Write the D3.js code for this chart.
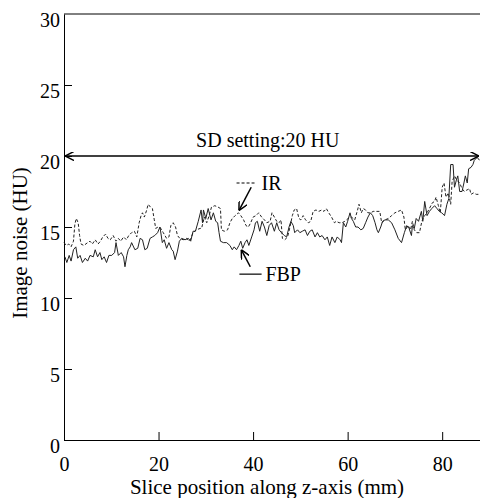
<!DOCTYPE html>
<html>
<head>
<meta charset="utf-8">
<script src="https://cdn.jsdelivr.net/npm/d3@7"></script>
<style>
  body { margin: 0; background: #fff; }
</style>
</head>
<body>
<svg id="chart"></svg>
<script>
// slice positions (mm) and noise (HU)
const fbpX = [0.2,0.6,1.1,1.5,2.0,2.5,2.9,3.4,3.9,4.5,5.0,5.5,6.2,6.6,7.1,7.6,8.0,8.5,9.0,9.5,10.1,10.7,11.0,11.5,12.1,12.6,12.9,13.3,13.6,14.0,14.3,
  15.0,15.6,16.1,16.6,17.1,17.6,18.2,18.7,19.2,19.8,20.3,20.8,21.2,21.7,22.2,22.8,23.1,23.5,24.0,24.4,24.9,25.6,26.3,26.8,27.3,27.8,28.4,29.0,29.3,
  29.5,30.0,30.5,31.1,31.6,32.1,32.5,32.8,33.1,33.7,34.4,35.1,35.6,36.0,36.5,37.0,37.4,37.8,38.3,38.7,39.1,39.7,40.2,40.5,40.9,41.4,41.9,42.4,42.9,43.4,
  43.9,44.5,45.0,45.5,46.0,46.6,47.1,47.6,48.0,48.5,48.8,49.4,49.9,50.4,51.0,51.5,52.0,52.5,53.1,53.6,54.1,54.6,55.2,55.7,56.2,56.7,57.3,57.8,58.4,58.7,
  59.1,59.6,60.0,60.5,60.8,61.2,61.7,62.2,62.8,63.3,63.8,64.3,64.8,65.3,65.8,66.2,66.5,67.0,67.4,67.9,68.6,69.3,70.0,70.7,71.4,72.0,72.5,73.0,73.5,
  73.7,74.1,74.5,75.0,75.6,75.9,76.3,76.8,77.3,77.8,78.4,78.9,79.4,79.9,80.5,81.0,81.4,81.8,82.3,82.6,83.0,83.3,83.7,84.2,84.6,84.9,85.3,85.6,86.1,86.5,86.8,87.4,87.9];
const fbpHU = [12.9,12.5,13.0,12.6,13.4,13.6,12.8,13.0,12.5,12.8,12.6,13.0,12.9,13.4,12.9,13.2,12.7,12.9,12.5,13.0,13.0,13.2,13.9,13.0,13.2,12.9,12.2,13.0,13.4,13.6,13.9,
  13.4,13.5,14.2,14.1,13.4,13.5,14.2,14.3,14.4,14.6,15.0,13.9,14.1,13.5,13.9,13.4,13.3,12.7,13.3,14.0,14.2,14.1,14.2,14.0,14.7,14.7,15.4,16.2,15.3,
  16.2,15.6,16.3,15.5,16.0,15.4,15.3,14.6,14.0,13.9,13.9,13.7,13.4,13.6,13.4,13.7,14.0,13.5,13.9,14.1,13.7,14.3,14.8,15.3,15.4,14.7,15.4,15.0,14.4,15.1,
  15.3,14.7,15.3,14.8,14.6,14.4,14.3,15.0,15.4,15.1,14.6,14.8,14.6,14.7,14.8,14.4,14.7,14.8,14.3,14.6,14.3,14.4,14.1,14.3,13.7,14.3,13.9,14.3,14.1,13.9,
  15.3,15.0,15.4,16.0,15.6,15.4,15.0,15.0,14.8,14.9,15.3,15.7,16.0,15.8,15.3,14.8,14.6,15.0,15.4,15.5,15.5,15.3,14.8,14.2,13.9,14.6,15.1,14.9,14.4,
  15.1,14.9,15.6,15.4,16.1,15.4,16.8,15.8,16.1,16.3,16.5,16.3,16.1,16.0,15.8,16.6,17.0,19.4,19.4,17.8,18.3,18.6,17.5,17.5,18.1,18.6,18.1,19.1,19.2,19.4,19.7,19.9,19.7];

const irX = [0.0,0.5,1.0,1.5,2.0,2.3,2.6,3.0,3.3,3.6,4.2,5.0,5.5,6.0,6.6,7.2,7.7,8.2,8.8,9.3,9.8,10.4,11.0,11.5,12.0,12.6,13.2,13.7,14.3,
  14.9,15.4,15.9,16.3,16.6,17.0,17.5,17.8,18.3,18.7,19.1,19.4,19.9,20.5,21.0,21.7,22.2,22.6,23.1,23.6,24.0,24.5,25.2,25.9,26.6,27.3,28.0,28.8,
  29.1,29.7,30.2,30.7,31.2,31.9,32.6,33.1,33.3,33.9,34.6,35.1,35.6,36.2,36.9,37.4,38.0,38.5,39.0,39.5,40.0,40.6,41.2,41.8,42.4,42.9,43.6,
  44.0,44.5,45.0,45.5,45.9,46.2,46.7,47.3,47.8,48.3,48.7,49.2,49.7,50.1,50.6,51.1,51.7,52.2,52.7,53.3,53.9,54.5,55.0,55.5,56.0,56.6,57.2,57.6,58.2,58.8,
  59.4,60.1,60.8,61.5,62.1,62.4,62.9,63.3,63.8,64.3,64.9,65.4,66.1,66.8,67.2,67.9,68.6,69.3,70.0,70.7,71.4,71.9,72.2,72.8,73.3,
  73.7,74.1,74.6,75.2,75.7,76.3,76.8,77.3,77.9,78.4,78.7,79.2,79.6,80.0,80.4,80.8,81.3,81.8,82.1,82.6,83.1,83.7,84.2,84.7,85.2,85.8,86.1,86.6,87.2,87.9];
const irHU = [13.9,13.7,13.8,13.6,14.0,15.2,15.6,15.3,14.4,13.8,13.7,13.9,14.0,13.8,14.1,13.8,14.0,14.3,14.5,14.2,14.1,14.4,14.0,14.2,14.0,14.3,14.1,14.4,14.6,
  14.7,14.3,15.3,15.8,16.0,15.7,16.2,16.6,16.4,16.3,15.5,14.9,15.0,14.9,14.6,14.2,14.3,15.1,15.3,15.0,14.4,14.2,14.1,14.2,14.0,14.6,14.8,14.9,
  14.9,15.7,15.3,15.8,16.4,16.5,16.4,16.3,14.8,14.7,14.8,15.3,15.6,15.8,16.0,15.8,15.5,15.1,15.0,15.3,15.7,15.8,16.0,15.7,15.5,15.3,15.4,
  16.0,15.7,15.4,15.3,15.5,14.2,14.1,14.3,15.0,15.8,16.2,16.3,15.6,15.5,15.8,15.5,15.3,15.4,16.1,16.2,16.1,16.2,16.1,16.3,16.0,15.7,15.3,15.4,15.3,15.3,
  15.4,15.6,15.7,15.5,16.2,16.6,16.0,16.3,16.2,16.0,16.0,16.1,16.1,16.1,15.3,15.5,15.6,15.8,16.0,16.1,16.2,15.7,14.8,15.1,14.8,
  15.4,14.8,14.6,14.6,15.4,15.8,16.0,16.3,16.7,16.8,17.1,16.5,16.0,17.8,18.1,17.1,17.4,16.6,18.2,18.6,18.3,18.1,17.7,17.5,17.6,17.7,17.3,17.4,17.3,17.3];

const xTicks = [0, 20, 40, 60, 80];
const yTicks = [0, 5, 10, 15, 20, 25, 30];
const sdSetting = 20;

const serif = "Liberation Serif";
const width = 480, height = 498;
const margin = { top: 14, right: 0, bottom: 58, left: 64 };

const svg = d3.select("#chart").attr("width", width).attr("height", height);

const x = d3.scaleLinear().domain([0, 88]).range([margin.left, width - margin.right]);
const y = d3.scaleLinear().domain([0, 30]).range([height - margin.bottom, margin.top]);

// frame top edge
svg.append("line")
  .attr("x1", x(0)).attr("x2", width).attr("y1", y(30)).attr("y2", y(30))
  .attr("stroke", "#000").attr("stroke-width", 1);

const xAxis = svg.append("g")
  .attr("transform", `translate(0,${y(0)})`)
  .call(d3.axisBottom(x).tickValues(xTicks).tickSize(-8).tickSizeOuter(0).tickPadding(17));
const yAxis = svg.append("g")
  .attr("transform", `translate(${x(0)},0)`)
  .call(d3.axisLeft(y).tickValues(yTicks).tickSize(-8).tickSizeOuter(0).tickPadding(4));

[xAxis, yAxis].forEach(a => {
  a.attr("font-family", serif).attr("font-size", 20);
  a.select(".domain").attr("stroke", "#000");
  a.selectAll(".tick line").attr("stroke", "#000");
  a.selectAll(".tick text").attr("fill", "#000");
});
yAxis.selectAll(".tick text").attr("dy", "0.64em");
yAxis.selectAll(".tick").filter(d => d === 30).select("line").remove();

// noise profiles
const line = d3.line().x(d => x(d[0])).y(d => y(d[1]));
svg.append("path")
  .datum(d3.zip(irX, irHU))
  .attr("d", line).attr("fill", "none")
  .attr("stroke", "#222").attr("stroke-width", 1)
  .attr("stroke-dasharray", "3,2");
svg.append("path")
  .datum(d3.zip(fbpX, fbpHU))
  .attr("d", line).attr("fill", "none")
  .attr("stroke", "#222").attr("stroke-width", 1);

// open arrowhead
svg.append("defs").append("marker")
  .attr("id", "head").attr("viewBox", "0 0 10 10")
  .attr("refX", 10).attr("refY", 5)
  .attr("markerWidth", 9).attr("markerHeight", 9)
  .attr("markerUnits", "userSpaceOnUse")
  .attr("orient", "auto-start-reverse")
  .append("path").attr("d", "M0,0L10,5L0,10")
  .attr("fill", "none").attr("stroke", "#000").attr("stroke-width", 1.6);

// SD setting line
svg.append("line")
  .attr("x1", x(0) + 1).attr("x2", width - 1)
  .attr("y1", y(sdSetting)).attr("y2", y(sdSetting))
  .attr("stroke", "#000").attr("stroke-width", 1.5)
  .attr("marker-start", "url(#head)").attr("marker-end", "url(#head)");
svg.append("text")
  .attr("x", x(43.1)).attr("y", y(sdSetting) - 9)
  .attr("text-anchor", "middle")
  .attr("font-family", serif).attr("font-size", 20)
  .text("SD setting:20 HU");

// legend keys and pointers (data units)
const keys = [
  { name: "IR", x0: 36.5, x1: 40.3, tx: 41.8, ty: 18.1, dash: "3,2", from: [39.6, 17.8], to: [37.0, 16.15] },
  { name: "FBP", x0: 37.1, x1: 41.8, tx: 42.6, ty: 11.68, dash: null, from: [39.4, 12.2], to: [37.5, 13.4] }
];
keys.forEach(k => {
  svg.append("line")
    .attr("x1", x(k.x0)).attr("x2", x(k.x1))
    .attr("y1", y(k.ty)).attr("y2", y(k.ty))
    .attr("stroke", "#000").attr("stroke-width", 1.2)
    .attr("stroke-dasharray", k.dash);
  svg.append("text")
    .attr("x", x(k.tx)).attr("y", y(k.ty))
    .attr("dy", "0.35em")
    .attr("font-family", serif).attr("font-size", 20)
    .text(k.name);
  svg.append("line")
    .attr("x1", x(k.from[0])).attr("y1", y(k.from[1]))
    .attr("x2", x(k.to[0])).attr("y2", y(k.to[1]))
    .attr("stroke", "#000").attr("stroke-width", 1.5)
    .attr("marker-end", "url(#head)");
});

// axis titles
svg.append("text")
  .attr("x", 267).attr("y", height - 4)
  .attr("text-anchor", "middle")
  .attr("font-family", serif).attr("font-size", 21)
  .text("Slice position along z-axis (mm)");
svg.append("text")
  .attr("transform", `translate(27,243) rotate(-90)`)
  .attr("text-anchor", "middle")
  .attr("font-family", serif).attr("font-size", 21)
  .text("Image noise (HU)");
</script>
</body>
</html>
